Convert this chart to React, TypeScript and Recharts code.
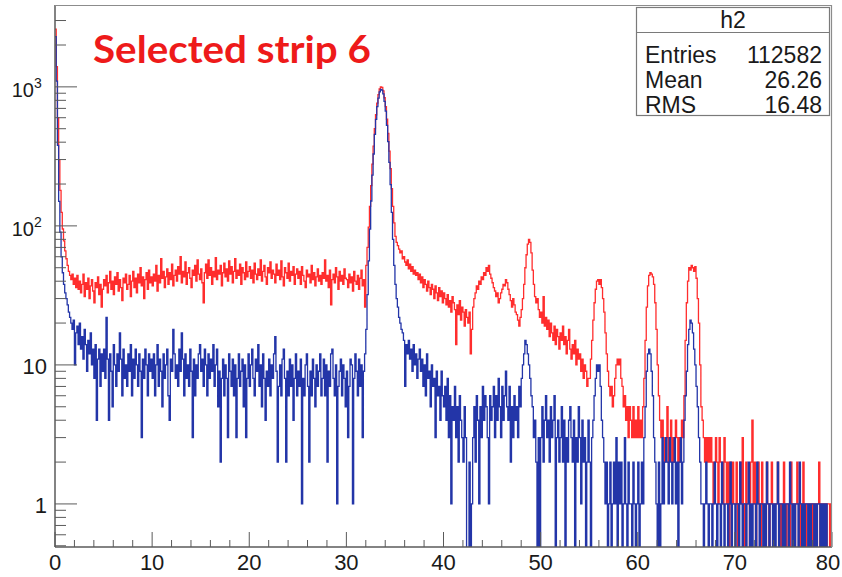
import React from "react";
import { LineChart, Line, XAxis, YAxis } from "recharts";

// h2: counts per 0.125-wide bin over 0..80 (20 bins = 2.5 units per line)
const BIN_WIDTH = 0.125;
// empty bins are drawn below the axis floor so they drop down to the frame, as ROOT does
const EMPTY_BIN = 0.3;

const redCounts = [
  2600, 1400, 600, 300, 180, 125, 95, 78, 66, 58, 52, 47, 44, 41, 45, 38, 42, 36, 44, 35,
  40, 33, 38, 45, 31, 39, 35, 42, 30, 37, 41, 34, 28, 39, 36, 43, 32, 38, 26, 35,
  41, 37, 44, 33, 39, 47, 35, 40, 32, 43, 38, 46, 34, 41, 36, 29, 42, 39, 45, 35,
  38, 44, 31, 40, 47, 36, 42, 33, 45, 39, 50, 37, 43, 30, 41, 46, 35, 48, 39, 43,
  37, 45, 40, 52, 34, 44, 39, 58, 42, 47, 36, 43, 49, 38, 46, 41, 53, 37, 44, 48,
  40, 51, 45, 60, 39, 47, 43, 55, 38, 46, 50, 42, 36, 48, 44, 52, 40, 57, 45, 41,
  49, 39, 28, 46, 53, 42, 57, 44, 50, 38, 47, 43, 59, 41, 48, 45, 52, 37, 46, 54,
  43, 49, 40, 56, 45, 51, 39, 47, 58, 42, 48, 44, 53, 38, 50, 46, 41, 55, 43, 47,
  51, 42, 48, 39, 54, 45, 41, 49, 44, 57, 40, 47, 52, 43, 38, 50, 46, 55, 42, 48,
  45, 39, 53, 44, 48, 41, 56, 43, 37, 50, 46, 42, 54, 40, 47, 44, 51, 38, 45, 49,
  42, 47, 38, 51, 44, 40, 36, 48, 43, 45, 39, 52, 41, 46, 37, 43, 49, 40, 44, 38,
  46, 42, 57, 40, 44, 36, 48, 27, 41, 45, 39, 50, 43, 35, 47, 40, 44, 38, 49, 42,
  41, 36, 45, 39, 43, 34, 47, 40, 38, 44, 35, 42, 48, 37, 41, 26, 52, 70, 98, 138,
  195, 278, 375, 500, 630, 765, 880, 965, 1000, 990, 935, 835, 720, 585, 462, 345, 258, 185, 138, 105,
  84, 76, 72, 68, 64, 66, 58, 60, 55, 52, 57, 49, 53, 47, 51, 45, 48, 44, 46, 41,
  45, 39, 43, 36, 41, 38, 34, 40, 36, 32, 38, 35, 30, 37, 33, 29, 36, 31, 34, 28,
  33, 30, 27, 32, 26, 29, 24, 31, 28, 25, 14, 27, 23, 29, 21, 26, 24, 19, 25, 22,
  20, 24, 12, 18, 26, 30, 33, 37, 35, 40, 38, 43, 41, 46, 44, 50, 47, 52, 45, 42,
  39, 36, 34, 31, 33, 28, 30, 33, 35, 38, 37, 41, 39, 35, 32, 29, 26, 30, 27, 24,
  23, 21, 19, 22, 25, 30, 38, 50, 62, 74, 80, 76, 64, 48, 38, 31, 28, 30, 25, 22,
  24, 20, 31, 19, 22, 18, 21, 16, 20, 17, 15, 19, 14, 18, 16, 13, 17, 15, 19, 14,
  16, 12, 15, 18, 13, 11, 14, 12, 15, 10, 13, 11, 12, 9, 11, 8, 10, 9, 7, 8,
  8, 11, 15, 21, 28, 35, 40, 41, 38, 41, 36, 30, 24, 17, 12, 9, 7, 6, 7, 5,
  6, 8, 10, 11, 10, 11, 8, 7, 5, 6, 4, 5, 3, 5, 4, 3, 5, 3, 4, 3,
  5, 3, 4, 3, 5, 8, 15, 26, 37, 44, 46, 45, 43, 38, 28, 18, 10, 6, 4, 3,
  4, 3, 2, 3, 5, 2, 3, 4, 2, 3, 2, 4, 3, 2, 3, 2, 4, 3, 6, 15,
  28, 40, 50, 48, 52, 50, 47, 51, 42, 30, 20, 10, 5, 4, 3, 2, 3, 2, 3, 2,
  3, 2, 1, 2, 3, 2, 1, 3, 2, 2, 1, 3, 2, 1, 2, 0, 2, 1, 2, 1,
  1, 2, 0, 1, 2, 1, 3, 1, 0, 2, 1, 1, 0, 2, 4, 1, 2, 0, 1, 2,
  1, 0, 2, 1, 1, 0, 2, 1, 0, 1, 2, 1, 0, 1, 1, 2, 0, 1, 0, 1,
  2, 1, 0, 1, 1, 0, 2, 1, 1, 0, 1, 2, 1, 0, 1, 1, 2, 1, 0, 1,
  1, 0, 1, 1, 0, 1, 1, 0, 1, 2, 0, 1, 1, 0, 1, 0, 1, 1, 0, 1,
];

const blueCounts = [
  2300, 1100, 380, 150, 90, 60, 46, 38, 33, 30, 27, 24, 22, 20, 18, 21, 10, 17, 19, 14,
  20, 13, 16, 11, 18, 14, 9, 15, 12, 17, 10, 13, 8, 14, 4, 11, 13, 7, 12, 9,
  13, 8, 22, 11, 4, 12, 9, 5, 14, 10, 7, 12, 9, 17, 11, 6, 13, 8, 10, 7,
  12, 9, 14, 6, 11, 8, 13, 10, 7, 12, 9, 3, 11, 8, 13, 10, 6, 12, 9, 11,
  8, 12, 6, 10, 14, 7, 11, 9, 5, 12, 8, 10, 13, 6, 4, 11, 9, 18, 12, 8,
  10, 7, 13, 9, 17, 11, 6, 12, 8, 10, 7, 13, 9, 3, 11, 6, 10, 8, 12, 14,
  9, 11, 7, 13, 10, 6, 12, 8, 11, 9, 14, 7, 10, 13, 5, 9, 2, 8, 11, 6,
  10, 8, 3, 12, 9, 7, 11, 6, 10, 3, 8, 12, 7, 9, 11, 5, 10, 3, 8, 12,
  7, 10, 13, 8, 6, 11, 9, 14, 7, 10, 5, 12, 8, 4, 9, 7, 11, 6, 10, 8,
  12, 16, 9, 2, 7, 10, 6, 11, 13, 8, 2, 9, 6, 11, 7, 10, 4, 8, 12, 6,
  9, 7, 11, 1, 8, 6, 10, 12, 7, 2, 9, 6, 11, 8, 5, 10, 7, 9, 12, 6,
  8, 11, 6, 10, 2, 9, 7, 12, 13, 8, 6, 10, 1, 7, 9, 11, 6, 10, 8, 5,
  9, 3, 7, 11, 10, 1, 8, 12, 9, 6, 11, 7, 10, 3, 9, 12, 18, 32, 56, 95,
  151, 232, 329, 455, 583, 720, 831, 919, 957, 947, 890, 787, 668, 528, 404, 286, 198, 125, 80, 52,
  38, 30, 26, 22, 20, 18, 17, 15, 7, 14, 12, 15, 11, 13, 9, 14, 10, 12, 8, 11,
  13, 9, 11, 7, 10, 6, 12, 8, 9, 5, 10, 7, 8, 3, 9, 6, 7, 4, 9, 6,
  5, 7, 4, 8, 3, 6, 1, 5, 4, 7, 3, 5, 2, 6, 4, 3, 2, 5, 3, 0,
  0, 2, 0, 1, 3, 5, 2, 6, 4, 1, 5, 3, 7, 4, 6, 5, 3, 1, 6, 4,
  5, 7, 3, 6, 4, 8, 5, 3, 7, 4, 6, 9, 5, 4, 7, 2, 5, 3, 6, 4,
  5, 3, 7, 5, 8, 10, 12, 15, 14, 12, 10, 8, 6, 5, 3, 4, 2, 0, 3, 0,
  3, 5, 2, 4, 6, 3, 4, 2, 5, 3, 4, 6, 0, 3, 4, 2, 3, 5, 2, 4,
  0, 3, 2, 4, 5, 3, 2, 4, 0, 3, 2, 5, 3, 1, 4, 2, 3, 0, 2, 4,
  2, 0, 3, 4, 6, 8, 10, 9, 10, 7, 4, 3, 2, 1, 2, 0, 1, 2, 0, 1,
  2, 1, 3, 0, 2, 1, 2, 0, 1, 3, 1, 0, 2, 1, 1, 0, 2, 1, 0, 1,
  2, 0, 1, 2, 1, 3, 5, 9, 12, 13, 12, 9, 6, 3, 2, 1, 0, 2, 0, 1,
  3, 1, 2, 3, 2, 1, 3, 2, 1, 2, 3, 1, 2, 0, 2, 3, 1, 2, 4, 6,
  9, 14, 18, 21, 20, 17, 13, 10, 7, 5, 3, 2, 1, 1, 0, 1, 2, 1, 0, 1,
  1, 0, 1, 2, 1, 0, 1, 1, 0, 2, 1, 0, 1, 1, 0, 1, 2, 0, 1, 1,
  0, 1, 1, 0, 2, 1, 0, 1, 1, 0, 1, 2, 0, 1, 0, 1, 1, 0, 2, 1,
  0, 1, 1, 0, 1, 0, 2, 1, 0, 1, 1, 0, 1, 0, 1, 2, 0, 1, 1, 0,
  1, 0, 1, 1, 0, 2, 1, 0, 1, 0, 1, 1, 0, 2, 1, 0, 1, 0, 1, 1,
  0, 1, 0, 1, 1, 0, 1, 0, 1, 1, 0, 1, 0, 1, 0, 1, 0, 0, 0, 0,
];

const xTicks = [
  0, 2, 4, 6, 8, 10, 12, 14, 16, 18, 20, 22, 24, 26, 28, 30, 32, 34, 36, 38, 40,
  42, 44, 46, 48, 50, 52, 54, 56, 58, 60, 62, 64, 66, 68, 70, 72, 74, 76, 78, 80,
];

const yTicks = [
  0.5, 0.6, 0.7, 0.8, 0.9, 1, 2, 3, 4, 5, 6, 7, 8, 9, 10, 20, 30, 40, 50, 60, 70, 80, 90,
  100, 200, 300, 400, 500, 600, 700, 800, 900, 1000, 2000, 3000,
];

const statsTitle = "h2";
const statsLabels = ["Entries", "Mean", "RMS"];
const statsValues = ["112582", "26.26", "16.48"];

const RED = "#ff2d2d";
const BLUE = "#2335a8";
const AXIS = "#5a5a5a";
const FONT = "'Liberation Sans', Arial, sans-serif";

const data = redCounts.map((r, i) => ({
  x: i * BIN_WIDTH,
  red: r > 0 ? r : EMPTY_BIN,
  blue: blueCounts[i] > 0 ? blueCounts[i] : EMPTY_BIN,
}));
// closing edge of the last bin
data.push({ ...data[data.length - 1], x: redCounts.length * BIN_WIDTH });

function XTick({ x, y, payload }: any) {
  const v = payload.value;
  const major = v % 10 === 0;
  return (
    <g>
      <line x1={x} x2={x} y1={y} y2={y - (major ? 15 : 7)} stroke={AXIS} strokeWidth={1} />
      {major && (
        <text
          x={Math.min(x, 828)}
          y={y + 23}
          textAnchor="middle"
          fontSize={22}
          fontFamily={FONT}
          fill="#1a1a1a"
        >
          {v}
        </text>
      )}
    </g>
  );
}

function YTick({ x, y, payload }: any) {
  const v = payload.value;
  const p = Math.round(Math.log10(v));
  const major = Math.abs(Math.log10(v) - p) < 1e-6;
  let label: React.ReactNode = null;
  if (major && p <= 1) {
    label = (
      <text x={x - 8} y={y + 9} textAnchor="end" fontSize={22} fontFamily={FONT} fill="#1a1a1a">
        {p === 0 ? "1" : "10"}
      </text>
    );
  } else if (major) {
    label = (
      <g fontFamily={FONT} fill="#1a1a1a">
        <text x={x - 21} y={y + 10} textAnchor="end" fontSize={20}>
          10
        </text>
        <text x={x - 21} y={y + 1} textAnchor="start" fontSize={14}>
          {p}
        </text>
      </g>
    );
  }
  return (
    <g>
      <line x1={x} x2={x + (major ? 22 : 11)} y1={y} y2={y} stroke={AXIS} strokeWidth={1} />
      {label}
    </g>
  );
}

export default function App() {
  return (
    <div style={{ position: "absolute", left: 0, top: 0, width: 842, height: 577, background: "#fff" }}>
      <LineChart width={842} height={577} data={data} margin={{ top: 5, right: 10, bottom: 0, left: 0 }}>
        <XAxis
          dataKey="x"
          type="number"
          domain={[0, 80]}
          ticks={xTicks}
          interval={0}
          height={30}
          tickLine={false}
          tickSize={0}
          tickMargin={0}
          tick={<XTick />}
          axisLine={{ stroke: AXIS, strokeWidth: 1.5 }}
        />
        <YAxis
          scale="log"
          domain={[0.49, 3880]}
          allowDataOverflow
          ticks={yTicks}
          interval={0}
          width={55}
          tickLine={false}
          tickSize={0}
          tickMargin={0}
          tick={<YTick />}
          axisLine={{ stroke: AXIS, strokeWidth: 1.5 }}
        />
        <Line
          dataKey="red"
          type="stepAfter"
          stroke={RED}
          strokeWidth={1.3}
          dot={false}
          isAnimationActive={false}
        />
        <Line
          dataKey="blue"
          type="stepAfter"
          stroke={BLUE}
          strokeWidth={1.3}
          dot={false}
          isAnimationActive={false}
        />
      </LineChart>
      <svg
        width={842}
        height={577}
        style={{ position: "absolute", left: 0, top: 0, pointerEvents: "none" }}
      >
        <line x1={55} x2={832} y1={5.5} y2={5.5} stroke="#8c8c8c" strokeWidth={1.2} />
        <line x1={831.5} x2={831.5} y1={5} y2={547} stroke="#8c8c8c" strokeWidth={1.2} />
        <text
          x={93}
          y={63}
          fontFamily="Lato, 'Open Sans', sans-serif"
          fontWeight={700}
          fontSize={38}
          fill="#ee1a1a"
          textLength={278}
          lengthAdjust="spacingAndGlyphs"
        >
          Selected strip 6
        </text>
        <g fontFamily={FONT} fill="#1a1a1a">
          <rect x={636.5} y={7.5} width={193} height={108} fill="#fff" stroke="#7a7a7a" strokeWidth={1.2} />
          <line x1={636.5} x2={829.5} y1={32.5} y2={32.5} stroke="#7a7a7a" strokeWidth={1.2} />
          <text x={733} y={28} textAnchor="middle" fontSize={23}>
            {statsTitle}
          </text>
          {statsLabels.map((label, i) => (
            <g key={label}>
              <text x={645} y={63 + i * 25} fontSize={23}>
                {label}
              </text>
              <text x={822} y={63 + i * 25} textAnchor="end" fontSize={23}>
                {statsValues[i]}
              </text>
            </g>
          ))}
        </g>
      </svg>
    </div>
  );
}
